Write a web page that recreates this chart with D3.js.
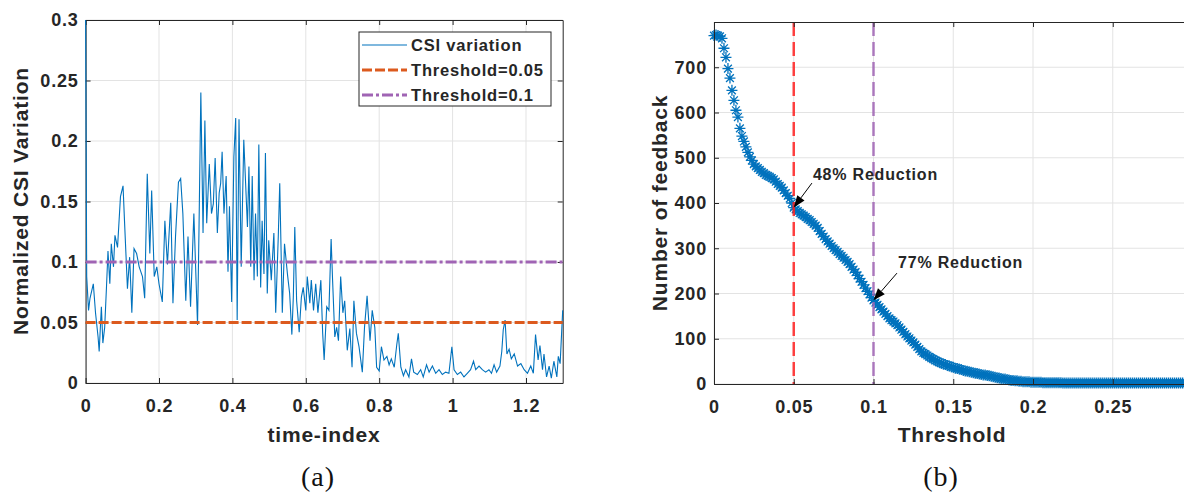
<!DOCTYPE html>
<html>
<head>
<meta charset="utf-8">
<script src="https://cdn.jsdelivr.net/npm/d3@7"></script>
<style>
  body { margin: 0; background: #fff; }
  svg { display: block; }
  .sans { font-family: "Liberation Sans", Arial, sans-serif; font-weight: bold; letter-spacing: 0.8px; fill: #262626; }
</style>
</head>
<body>
<svg width="1184" height="493"></svg>
<script>
// ---- data (a): CSI variation over time-index
var csiTime = [
  0, 0.003, 0.008, 0.012, 0.021, 0.027, 0.034, 0.037, 0.043, 0.047,
  0.052, 0.057, 0.061, 0.066, 0.070, 0.076, 0.080, 0.087, 0.095, 0.102,
  0.106, 0.114, 0.120, 0.126, 0.132, 0.139, 0.146, 0.155, 0.161, 0.168,
  0.175, 0.180, 0.187, 0.194, 0.200, 0.209, 0.216, 0.223, 0.232, 0.238,
  0.245, 0.253, 0.259, 0.265, 0.273, 0.279, 0.286, 0.295, 0.305, 0.309,
  0.314, 0.320, 0.325, 0.330, 0.337, 0.343, 0.348, 0.353, 0.359, 0.364,
  0.368, 0.372, 0.377, 0.383, 0.388, 0.392, 0.398, 0.404, 0.409, 0.413,
  0.418, 0.424, 0.431, 0.436, 0.441, 0.445, 0.450, 0.454, 0.459, 0.463,
  0.468, 0.472, 0.477, 0.481, 0.486, 0.490, 0.495, 0.499, 0.506, 0.513,
  0.518, 0.525, 0.529, 0.536, 0.542, 0.550, 0.556, 0.562, 0.566, 0.570,
  0.575, 0.582, 0.588, 0.593, 0.600, 0.604, 0.611, 0.615, 0.621, 0.627,
  0.633, 0.641, 0.646, 0.650, 0.657, 0.663, 0.669, 0.673, 0.679, 0.684,
  0.689, 0.695, 0.701, 0.706, 0.713, 0.720, 0.726, 0.731, 0.738, 0.745,
  0.754, 0.760, 0.767, 0.775, 0.781, 0.788, 0.793, 0.800, 0.806, 0.813,
  0.821, 0.827, 0.833, 0.841, 0.848, 0.852, 0.859, 0.866, 0.872, 0.881,
  0.888, 0.894, 0.904, 0.913, 0.920, 0.929, 0.936, 0.945, 0.954, 0.963,
  0.972, 0.981, 0.990, 0.998, 1.004, 1.013, 1.022, 1.031, 1.040, 1.049,
  1.057, 1.063, 1.072, 1.081, 1.090, 1.099, 1.106, 1.113, 1.120, 1.129,
  1.134, 1.138, 1.143, 1.148, 1.154, 1.160, 1.168, 1.177, 1.186, 1.195,
  1.204, 1.213, 1.220, 1.226, 1.233, 1.238, 1.245, 1.249, 1.256, 1.263,
  1.269, 1.276, 1.284, 1.288, 1.293, 1.297, 1.300
];
var csiValue = [
  0.300, 0.088, 0.060, 0.070, 0.082, 0.058, 0.038, 0.026, 0.063, 0.033,
  0.046, 0.080, 0.109, 0.082, 0.115, 0.096, 0.122, 0.112, 0.154, 0.163,
  0.134, 0.078, 0.104, 0.058, 0.111, 0.107, 0.096, 0.088, 0.070, 0.173,
  0.107, 0.159, 0.088, 0.096, 0.082, 0.067, 0.134, 0.098, 0.149, 0.066,
  0.121, 0.166, 0.169, 0.140, 0.068, 0.121, 0.063, 0.140, 0.048, 0.127,
  0.240, 0.124, 0.217, 0.132, 0.181, 0.140, 0.148, 0.186, 0.124, 0.157,
  0.165, 0.191, 0.140, 0.171, 0.092, 0.146, 0.067, 0.187, 0.219, 0.052,
  0.218, 0.096, 0.201, 0.165, 0.129, 0.179, 0.096, 0.171, 0.085, 0.140,
  0.088, 0.197, 0.079, 0.134, 0.090, 0.190, 0.074, 0.118, 0.085, 0.124,
  0.058, 0.121, 0.165, 0.058, 0.115, 0.090, 0.074, 0.040, 0.071, 0.129,
  0.068, 0.042, 0.071, 0.079, 0.060, 0.088, 0.066, 0.085, 0.060, 0.082,
  0.058, 0.085, 0.041, 0.019, 0.063, 0.060, 0.119, 0.085, 0.038, 0.046,
  0.035, 0.088, 0.058, 0.068, 0.027, 0.045, 0.013, 0.068, 0.041, 0.030,
  0.009, 0.046, 0.072, 0.035, 0.060, 0.046, 0.013, 0.010, 0.030, 0.019,
  0.022, 0.015, 0.020, 0.013, 0.032, 0.041, 0.013, 0.006, 0.011, 0.005,
  0.020, 0.009, 0.007, 0.011, 0.005, 0.015, 0.009, 0.014, 0.008, 0.011,
  0.007, 0.009, 0.008, 0.030, 0.011, 0.007, 0.009, 0.005, 0.008, 0.011,
  0.018, 0.011, 0.014, 0.011, 0.009, 0.011, 0.008, 0.015, 0.009, 0.014,
  0.026, 0.044, 0.052, 0.024, 0.028, 0.020, 0.024, 0.014, 0.016, 0.011,
  0.008, 0.014, 0.008, 0.040, 0.019, 0.031, 0.011, 0.024, 0.005, 0.014,
  0.004, 0.018, 0.005, 0.022, 0.016, 0.041, 0.060
];
var csiThresholds = [0.05, 0.1];
var legendLabels = ["CSI variation", "Threshold=0.05", "Threshold=0.1"];
var xTicksA = [0, 0.2, 0.4, 0.6, 0.8, 1, 1.2];
var yTicksA = [0, 0.05, 0.1, 0.15, 0.2, 0.25, 0.3];

// ---- data (b): number of feedback vs threshold (one value per 0.00125)
var thresholdStep = 0.00125;
var feedbackCount = [
  770, 771, 770, 768, 764, 742, 722, 697, 676, 649,
  627, 605, 590, 565, 548, 536, 524, 512, 502, 494,
  486, 481, 477, 473, 469, 466, 462, 460, 458, 455,
  452, 447, 442, 438, 434, 428, 422, 416, 410, 400,
  390, 386, 382, 378, 375, 372, 369, 365, 362, 358,
  354, 350, 345, 338, 332, 326, 320, 315, 310, 305,
  300, 296, 292, 287, 283, 279, 274, 270, 265, 259,
  253, 247, 240, 233, 226, 219, 212, 205, 198, 191,
  185, 180, 175, 170, 165, 160, 155, 150, 145, 141,
  138, 134, 130, 125, 120, 115, 110, 105, 101, 96,
  92, 87, 82, 77, 72, 69, 66, 63, 60, 57,
  55, 52, 50, 48, 46, 44, 43, 41, 40, 38,
  37, 35, 34, 33, 32, 30, 29, 28, 27, 26,
  25, 24, 23, 22, 21, 20, 20, 19, 18, 17,
  16, 15, 14, 13, 12, 11, 11, 10, 9, 8,
  8, 7, 7, 6, 6, 5, 5, 5, 5, 4,
  4, 4, 4, 4, 4, 3, 3, 3, 3, 3,
  3, 3, 3, 3, 3, 2, 2, 2, 2, 2,
  2, 2, 2, 2, 2, 2, 2, 2, 2, 2,
  2, 2, 2, 2, 2, 2, 2, 2, 2, 2,
  2, 2, 2, 2, 2, 2, 2, 2, 2, 2,
  2, 2, 2, 2, 2, 2, 2, 2, 2, 2,
  2, 2, 2, 2, 2, 2, 2, 2, 2, 2,
  2, 2, 2, 2, 2, 2, 2, 2, 2, 2,
  2
];
var markLines = [0.05, 0.1];
var notes = [
  {text: "48% Reduction", tx: 0.062, ty: 451, from: [0.0614, 444], to: [0.05, 390]},
  {text: "77% Reduction", tx: 0.1154, ty: 256, from: [0.1147, 245], to: [0.1, 185]}
];
var xTicksB = [0, 0.05, 0.1, 0.15, 0.2, 0.25];
var yTicksB = [0, 100, 200, 300, 400, 500, 600, 700];

var blue = "#0072BD", orange = "#DC5A1E", purple = "#A064B4";

var svg = d3.select("svg");
svg.append("rect").attr("width", 1184).attr("height", 493).attr("fill", "#fff");

// light grid behind a panel
function grid(x, y, xt, yt) {
  var g = svg.append("g");
  var x0 = x.range()[0], x1 = x.range()[1], y0 = y.range()[0], y1 = y.range()[1];
  g.selectAll(".gx").data(xt).enter().append("line")
    .attr("x1", d => x(d)).attr("x2", d => x(d)).attr("y1", y0).attr("y2", y1)
    .attr("stroke", "#e3e3e3").attr("stroke-width", 1);
  g.selectAll(".gy").data(yt).enter().append("line")
    .attr("x1", x0).attr("x2", x1).attr("y1", d => y(d)).attr("y2", d => y(d))
    .attr("stroke", "#e3e3e3").attr("stroke-width", 1);
  return g;
}
// box with inward ticks on all four sides, labels bottom/left
function axes(x, y, xt, yt, fmtX, fmtY) {
  var g = svg.append("g");
  var x0 = x.range()[0], x1 = x.range()[1], y0 = y.range()[0], y1 = y.range()[1];
  g.append("g").attr("transform", "translate(0," + y0 + ")")
    .call(d3.axisBottom(x).tickValues(xt).tickFormat(fmtX).tickSizeInner(-5).tickSizeOuter(0).tickPadding(16));
  g.append("g").attr("transform", "translate(" + x0 + ",0)")
    .call(d3.axisLeft(y).tickValues(yt).tickFormat(fmtY).tickSizeInner(-5).tickSizeOuter(0).tickPadding(7));
  g.append("g").attr("transform", "translate(0," + y1 + ")")
    .call(d3.axisTop(x).tickValues(xt).tickFormat("").tickSizeInner(-5).tickSizeOuter(0));
  g.append("g").attr("transform", "translate(" + x1 + ",0)")
    .call(d3.axisRight(y).tickValues(yt).tickFormat("").tickSizeInner(-5).tickSizeOuter(0));
  g.selectAll(".domain").attr("stroke", "#262626").attr("stroke-width", 1);
  g.selectAll(".tick line").attr("stroke", "#262626");
  g.selectAll(".tick text").attr("class", "sans").style("font-size", "18px");
  return g;
}

// ---------- panel (a)
var xA = d3.scaleLinear().domain([0, 1.3]).range([85.6, 562.7]);
var yA = d3.scaleLinear().domain([0, 0.3]).range([383, 20]);
var fmtA = d => d === 0 ? "0" : String(d);
grid(xA, yA, xTicksA, yTicksA);
axes(xA, yA, xTicksA, yTicksA, fmtA, fmtA);

svg.append("path")
  .datum(d3.range(csiTime.length))
  .attr("fill", "none").attr("stroke", blue).attr("stroke-width", 1.1)
  .attr("d", d3.line().x(i => xA(csiTime[i])).y(i => yA(csiValue[i])));

svg.append("line").attr("x1", xA(0)).attr("x2", xA(1.3))
  .attr("y1", yA(csiThresholds[0])).attr("y2", yA(csiThresholds[0]))
  .attr("stroke", orange).attr("stroke-width", 3).attr("stroke-dasharray", "10,3");
svg.append("line").attr("x1", xA(0)).attr("x2", xA(1.3))
  .attr("y1", yA(csiThresholds[1])).attr("y2", yA(csiThresholds[1]))
  .attr("stroke", purple).attr("stroke-width", 3).attr("stroke-dasharray", "11,3,3,3");

// legend
var lg = svg.append("g").attr("transform", "translate(359,32)");
lg.append("rect").attr("width", 192).attr("height", 74).attr("fill", "#fff")
  .attr("stroke", "#262626").attr("stroke-width", 1);
var lstyle = [
  {c: blue, w: 1.1, dash: null},
  {c: orange, w: 3, dash: "10,3"},
  {c: purple, w: 3, dash: "11,3,3,3"}
];
legendLabels.forEach(function(t, i) {
  var yy = 13 + i * 25;
  lg.append("line").attr("x1", 3).attr("x2", 48).attr("y1", yy).attr("y2", yy)
    .attr("stroke", lstyle[i].c).attr("stroke-width", lstyle[i].w)
    .attr("stroke-dasharray", lstyle[i].dash);
  lg.append("text").attr("class", "sans").attr("x", 52).attr("y", yy + 6)
    .style("font-size", "16.5px").attr("fill", "#000").text(t);
});

svg.append("text").attr("class", "sans").attr("text-anchor", "middle")
  .attr("x", 324).attr("y", 442).style("font-size", "21px").text("time-index");
svg.append("text").attr("class", "sans").attr("text-anchor", "middle")
  .attr("transform", "translate(28,201) rotate(-90)").style("font-size", "21px")
  .text("Normalized CSI Variation");

// ---------- panel (b)
var xB = d3.scaleLinear().domain([0, 0.3]).range([714, 1192.5]);
var yB = d3.scaleLinear().domain([0, 800]).range([384, 22]);
grid(xB, yB, xTicksB, yTicksB);

var clip = svg.append("clipPath").attr("id", "clipB");
clip.append("rect").attr("x", 708).attr("y", 10).attr("width", 480).attr("height", 382);
var pb = svg.append("g").attr("clip-path", "url(#clipB)");

var ast = "M-5.5,0H5.5M0,-5.5V5.5M-3.9,-3.9L3.9,3.9M-3.9,3.9L3.9,-3.9";
pb.selectAll(".mk").data(feedbackCount).enter().append("path")
  .attr("transform", (d, i) => "translate(" + xB(i * thresholdStep) + "," + yB(d) + ")")
  .attr("d", ast).attr("fill", "none").attr("stroke", blue).attr("stroke-width", 1.3);

svg.selectAll(".vl").data(markLines).enter().append("line")
  .attr("x1", d => xB(d)).attr("x2", d => xB(d)).attr("y1", yB(800)).attr("y2", yB(0))
  .attr("stroke", (d, i) => i === 0 ? "#FF2020" : purple)
  .attr("stroke-opacity", 0.85)
  .attr("stroke-width", 2.5).attr("stroke-dasharray", "14,6");

axes(xB, yB, xTicksB, yTicksB, d => d === 0 ? "0" : String(d), d => String(d));

notes.forEach(function(n) {
  var x1 = xB(n.from[0]), y1 = yB(n.from[1]), x2 = xB(n.to[0]), y2 = yB(n.to[1]);
  var a = Math.atan2(y2 - y1, x2 - x1), L = 12, W = 4.5;
  var bx = x2 - L * Math.cos(a), by = y2 - L * Math.sin(a);
  svg.append("line").attr("x1", x1).attr("y1", y1).attr("x2", bx).attr("y2", by)
    .attr("stroke", "#000").attr("stroke-width", 1);
  svg.append("path")
    .attr("d", "M" + x2 + "," + y2 +
      "L" + (bx + W * Math.sin(a)) + "," + (by - W * Math.cos(a)) +
      "L" + (bx - W * Math.sin(a)) + "," + (by + W * Math.cos(a)) + "Z")
    .attr("fill", "#000");
  svg.append("text").attr("class", "sans").attr("x", xB(n.tx)).attr("y", yB(n.ty))
    .style("font-size", "16px").attr("fill", "#000").text(n.text);
});

svg.append("text").attr("class", "sans").attr("text-anchor", "middle")
  .attr("x", 952).attr("y", 442).style("font-size", "21px").text("Threshold");
svg.append("text").attr("class", "sans").attr("text-anchor", "middle")
  .attr("transform", "translate(667,203) rotate(-90)").style("font-size", "21px")
  .text("Number of feedback");

// captions
svg.append("text").attr("x", 318).attr("y", 486).attr("text-anchor", "middle")
  .style("font-family", "'Liberation Serif', serif").style("font-size", "28px")
  .style("letter-spacing", "1px").attr("fill", "#111").text("(a)");
svg.append("text").attr("x", 941).attr("y", 486).attr("text-anchor", "middle")
  .style("font-family", "'Liberation Serif', serif").style("font-size", "28px")
  .style("letter-spacing", "1px").attr("fill", "#111").text("(b)");
</script>
</body>
</html>
